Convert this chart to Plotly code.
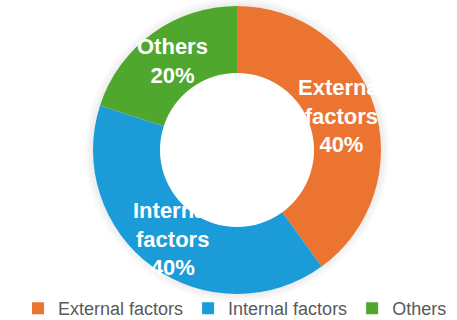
import math
import plotly.graph_objects as go

# Share of causes
labels = ["External factors", "Internal factors", "Others"]
values = [40, 40, 20]
colors = ["#EC7431", "#1B9BD7", "#50A72E"]

W, H = 457, 320
cx, cy, R = 237, 150, 144          # donut centre and outer radius (px)
hole = 0.535
label_r = 110                       # radius where the slice labels sit (px)

fig = go.Figure(go.Pie(
    labels=labels,
    values=values,
    hole=hole,
    sort=False,
    direction="clockwise",
    rotation=0,
    marker=dict(colors=colors, line=dict(width=0)),
    textinfo="none",
    hoverinfo="label+percent",
    domain=dict(x=[(cx - R) / W, (cx + R) / W],
                y=[(H - cy - R) / H, (H - cy + R) / H]),
))

# Slice labels placed at each slice's mid-angle
total = sum(values)
start = 0.0
annotations = []
for lab, v in zip(labels, values):
    mid = start + v / total * 360 / 2
    start += v / total * 360
    a = math.radians(mid)
    px = cx + label_r * math.sin(a)
    py = cy - label_r * math.cos(a)
    pct = round(v / total * 100)
    annotations.append(dict(
        x=px / W, y=1 - py / H, xref="paper", yref="paper",
        text="<b>" + lab.replace(" ", "<br>") + f"<br>{pct}%</b>",
        showarrow=False, xanchor="center", yanchor="middle",
        font=dict(family="Liberation Sans, Arial", size=22, color="white"),
    ))

# Soft halo just outside the ring (outline circles, fading outwards)
shapes = []
for i in range(1, 10):
    r = R + i - 0.5
    shapes.append(dict(
        type="circle", xref="paper", yref="paper", layer="below",
        x0=(cx - r) / W, x1=(cx + r) / W,
        y0=(H - cy - r) / H, y1=(H - cy + r) / H,
        fillcolor="rgba(0,0,0,0)",
        line=dict(width=1, color=f"rgba(0,0,0,{0.09 * (1 - i / 10):.3f})"),
    ))

fig.update_layout(
    width=W, height=H,
    margin=dict(l=0, r=0, t=0, b=0, autoexpand=False),
    paper_bgcolor="white",
    plot_bgcolor="white",
    annotations=annotations,
    shapes=shapes,
    showlegend=True,
    legend=dict(
        orientation="h", x=18 / W, xanchor="left", y=-0.022, yanchor="bottom",
        font=dict(family="Liberation Sans, Arial", size=18, color="#595959"),
        bgcolor="rgba(0,0,0,0)",
        traceorder="normal",
    ),
)

fig.write_html("out.html")
